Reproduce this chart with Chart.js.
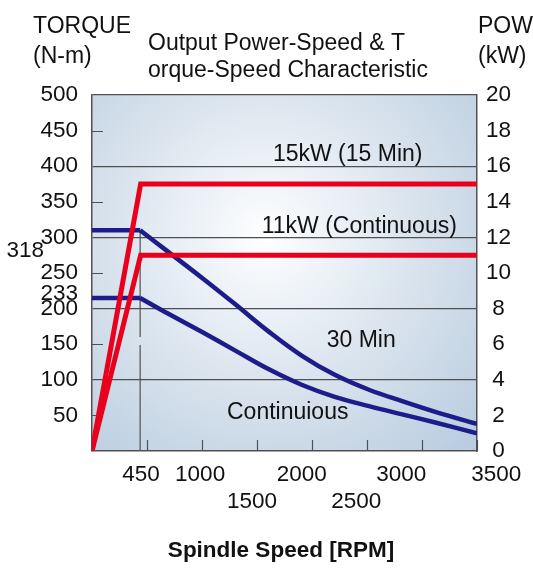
<!DOCTYPE html>
<html>
<head>
<meta charset="utf-8">
<title>Output Power-Speed &amp; Torque-Speed Characteristic</title>
<script src="https://cdn.jsdelivr.net/npm/chart.js@4.4.0/dist/chart.umd.min.js"></script>
<style>
  html, body { margin: 0; padding: 0; background: #fff; }
  canvas { display: block; }
</style>
</head>
<body>
<canvas id="chart" width="533" height="573"></canvas>
<script>
// torque curves: spindle speed (rpm) vs torque (N-m)
const speedT = [0, 450, 710, 1030, 1340, 1650, 1960, 2270, 2590, 2900, 3210, 3600];
const torque30 = [310, 310, 280, 243, 206, 168, 134, 107, 86, 70, 55, 38];
const torqueCont = [215, 215, 193, 167, 141, 115, 93, 76, 63, 51.5, 40, 25];

// power lines (kW)
const speedPow = [0, 455, 3600];
const power15 = [0, 15, 15];
const power11 = [0, 11, 11];

// base speed marker (line is broken around 155 N-m)
const baseSpeed = 450;
const baseLineTorque = [310, 160, null, 149, 0];

// x tick labels as printed (two rows, positions in rpm)
const xLabels = ["450", "1000", "2000", "3000", "3500", "1500", "2500"];
const xLabelPos = [459, 1011, 1962, 2892, 3781, 1497, 2470];
const xLabelRow = [0, 0, 0, 0, 0, 1, 1];

// extra torque labels next to the left axis
const extraLabels = ["318", "233"];
const extraLabelPos = [281, 221];

// captions on the curves (rpm, N-m)
const captions = ["15kW (15 Min)", "11kW (Continuous)", "30 Min", "Continuious"];
const captionX = [2391, 2499, 2517, 1830];
const captionY = [416, 314.6, 154.5, 53.4];

const RED = "#e8001c";
const BLUE = "#1c1c8a";
const GRID = "#505050";
const FONT = "'Liberation Sans', Arial, sans-serif";

Chart.defaults.font.family = FONT;
Chart.defaults.color = "#111";

function pts(xs, ys) {
  return xs.map((x, i) => ({ x: x, y: ys[i] }));
}

// torque curve = flat part up to base speed + smooth fall-off after it
function torqueSets(label, xs, ys) {
  const all = pts(xs, ys);
  const base = { yAxisID: "y", borderColor: BLUE, borderWidth: 4.5, pointRadius: 0 };
  return [
    Object.assign({ label: label, data: all.slice(0, 2), tension: 0 }, base),
    Object.assign({ label: label, data: all.slice(1), tension: 0.4 }, base)
  ];
}

// plot background + inner tick marks + all the loose text
const decor = {
  id: "decor",
  beforeDraw(chart) {
    const { ctx, chartArea: a } = chart;
    const cx = a.left + a.width * 0.45, cy = a.top + a.height * 0.4;
    const g = ctx.createRadialGradient(cx, cy, 0, cx, cy, a.width * 0.78);
    g.addColorStop(0, "#ffffff");
    g.addColorStop(0.12, "#f5f8fb");
    g.addColorStop(0.55, "#d6e1ec");
    g.addColorStop(1, "#b7cbdf");
    ctx.save();
    ctx.fillStyle = g;
    ctx.fillRect(a.left, a.top, a.width, a.height);
    ctx.restore();
  },
  beforeDatasetsDraw(chart) {
    const { ctx, chartArea: a, scales } = chart;
    ctx.save();
    ctx.strokeStyle = GRID;
    ctx.lineWidth = 1.2;
    ctx.beginPath();
    scales.y.ticks.forEach(t => {
      if (t.value % 100 === 0) return;
      const py = Math.round(scales.y.getPixelForValue(t.value)) + 0.5;
      ctx.moveTo(a.left, py);
      ctx.lineTo(a.left + 11, py);
    });
    scales.x.ticks.forEach(t => {
      if (t.value === 0) return;
      const px = Math.round(scales.x.getPixelForValue(t.value)) + 0.5;
      ctx.moveTo(px, a.bottom);
      ctx.lineTo(px, a.bottom - 11);
    });
    ctx.stroke();
    ctx.restore();
  },
  afterDraw(chart) {
    const { ctx, scales } = chart;
    ctx.save();
    ctx.fillStyle = "#111";
    ctx.textBaseline = "alphabetic";
    ctx.font = "23px " + FONT;
    ctx.textAlign = "left";
    ctx.fillText("TORQUE", 33, 33);
    ctx.fillText("(N-m)", 33, 63);
    ctx.fillText("POW", 478, 33);
    ctx.fillText("(kW)", 478, 63);
    ctx.fillText("Output Power-Speed & T", 148, 50);
    ctx.fillText("orque-Speed Characteristic", 148, 77);

    ctx.textBaseline = "middle";
    ctx.font = "22.5px " + FONT;
    ctx.textAlign = "center";
    xLabels.forEach((s, i) => {
      const px = scales.x.getPixelForValue(xLabelPos[i]);
      ctx.fillText(s, px, xLabelRow[i] === 0 ? 475 : 502);
    });
    ctx.textAlign = "right";
    extraLabels.forEach((s, i) => {
      ctx.fillText(s, i === 0 ? 44 : 78, scales.y.getPixelForValue(extraLabelPos[i]));
    });

    ctx.font = "23px " + FONT;
    ctx.textAlign = "center";
    captions.forEach((s, i) => {
      ctx.fillText(s, scales.x.getPixelForValue(captionX[i]), scales.y.getPixelForValue(captionY[i]));
    });

    ctx.font = "bold 22.5px " + FONT;
    ctx.fillText("Spindle Speed [RPM]", 281, 551);
    ctx.restore();
  }
};

new Chart(document.getElementById("chart"), {
  type: "line",
  data: {
    datasets: [
      { label: "15kW (15 Min)", data: pts(speedPow, power15), yAxisID: "y2",
        borderColor: RED, borderWidth: 5, pointRadius: 0, tension: 0 },
      { label: "11kW (Continuous)", data: pts(speedPow, power11), yAxisID: "y2",
        borderColor: RED, borderWidth: 5, pointRadius: 0, tension: 0 },
      ...torqueSets("30 Min", speedT, torque30),
      ...torqueSets("Continuous", speedT, torqueCont),
      { label: "base", data: baseLineTorque.map(v => ({ x: baseSpeed, y: v })), yAxisID: "y",
        borderColor: GRID, borderWidth: 1.2, pointRadius: 0, spanGaps: false }
    ]
  },
  options: {
    responsive: false,
    animation: false,
    layout: { padding: { top: 95 } },
    plugins: { legend: { display: false }, tooltip: { enabled: false } },
    scales: {
      x: {
        type: "linear", min: 0, max: 3600,
        ticks: { stepSize: 500, display: false },
        grid: { display: false },
        border: { display: true, color: GRID, width: 1.5 },
        afterFit(s) { s.height = 122; }
      },
      y: {
        position: "left", min: 0, max: 500,
        ticks: { stepSize: 50, padding: 14, font: { size: 22.5 },
          callback: v => (v === 0 ? "" : v) },
        grid: {
          drawTicks: false, lineWidth: 1.2,
          color: c => (c.tick && c.tick.value > 0 && c.tick.value % 100 === 0) ? GRID : "rgba(0,0,0,0)"
        },
        border: { display: true, color: GRID, width: 1.5 },
        afterFit(s) { s.width = 92; }
      },
      y2: {
        position: "right", min: 0, max: 20,
        ticks: { stepSize: 2, padding: 9, crossAlign: "center", font: { size: 22.5 } },
        grid: { display: false, drawTicks: false },
        border: { display: true, color: GRID, width: 1.5 },
        afterFit(s) { s.width = 56; }
      }
    }
  },
  plugins: [decor]
});
</script>
</body>
</html>
